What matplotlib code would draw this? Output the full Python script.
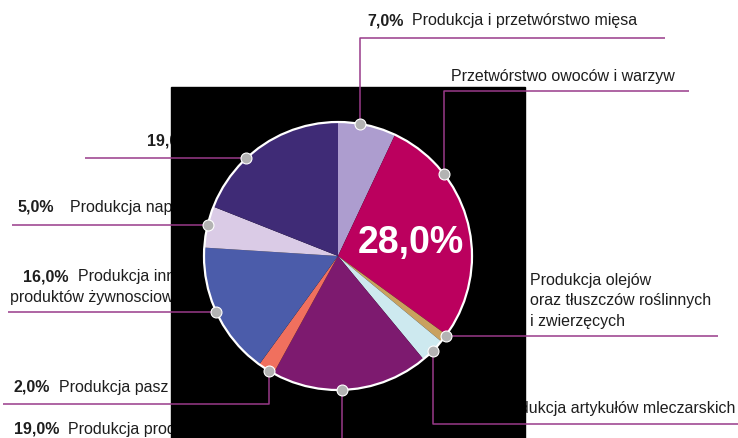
import numpy as np
import matplotlib
matplotlib.use("Agg")
import matplotlib.pyplot as plt
from matplotlib.patches import Rectangle, Circle

plt.rcParams['font.family'] = ['Liberation Sans', 'DejaVu Sans']

# data (clockwise from 12 o'clock)
categories = [
    'Produkcja i przetwórstwo mięsa',
    'Przetwórstwo owoców i warzyw',
    'Produkcja olejów\noraz tłuszczów roślinnych\ni zwierzęcych',
    'Produkcja artykułów mleczarskich',
    'Produkcja produktów przemiału zbóż',
    'Produkcja pasz',
    'Produkcja innych\nproduktów żywnosciowych',
    'Produkcja napojów',
    'Produkcja pieczywa',
]
shares = [7.0, 28.0, 1.0, 3.0, 19.0, 2.0, 16.0, 5.0, 19.0]
pct_labels = ['7,0%', '', '1,0%', '3,0%', '19,0%', '2,0%', '16,0%', '5,0%', '19,0%']
colors = ['#ad9dcf', '#bb005e', '#c9a15e', '#cde9ef', '#7d1a6f',
          '#f0705e', '#4b5caa', '#dacbe6', '#3f2b76']

W, H = 738, 439
def Y(y):
    return H - y

fig = plt.figure(figsize=(W / 100, H / 100), dpi=100)
ax = fig.add_axes([0, 0, 1, 1])

cx, cy, r = 338, 257, 134

# black backdrop behind the pie
ax.add_patch(Rectangle((171, 0), 525 - 171, Y(88), color='black', zorder=2))

ax.pie(shares, colors=colors, startangle=90, counterclock=False,
       center=(cx, Y(cy)), radius=r, wedgeprops=dict(linewidth=0, zorder=4))
for w in ax.patches:
    if not isinstance(w, Rectangle):
        w.set_zorder(4)
ax.add_patch(Circle((cx, Y(cy)), r, fill=False, edgecolor='white', lw=1.6, zorder=5))

ax.set_xlim(0, W)
ax.set_ylim(0, H)
ax.set_aspect('equal')
ax.axis('off')

ax.text(411, Y(243), '28,0%', color='white', fontsize=27, fontweight='bold',
        ha='center', va='center', zorder=6)

# label layout: anchor angle on rim, leader route, text position
anchor_deg = [9.5, 52.2, 126.6, 135.0, 178.3, 210.8, 245.5, 283.5, 316.8]
line_y = [39, 92, None, 425, 447, 405, None, None, None]
line_x_end = [665, 689, 718, 738, 0, 3, 8, 12, 85]
text_x = [367, 451, 530, 735, 14, 13, 23, 18, 147]
text_base = [25, 81, 285, 413, 434, 392, 281, 212, 146]
gaps = [9, 0, 10, 10, 9, 10, 10, 15, 10]
line_col = '#993a8a'
txt_col = '#1e1e1e'
fs = 11.5

renderer = fig.canvas.get_renderer()

for i in range(len(shares)):
    th = np.radians(anchor_deg[i])
    ax_ = cx + r * np.sin(th)
    ay_ = cy - r * np.cos(th)
    ly = ay_ if line_y[i] is None else line_y[i]
    ax.plot([ax_, ax_, line_x_end[i]], [Y(ay_), Y(ly), Y(ly)],
            color=line_col, lw=1.1, zorder=3, solid_capstyle='butt')
    ax.scatter([ax_], [Y(ay_)], s=62, color='#b3b3b3', edgecolor='white',
               linewidth=0.8, zorder=7)

    name = categories[i]
    pct = pct_labels[i]
    gap = gaps[i]
    tx, tb = text_x[i], Y(text_base[i])
    if i == 1:
        ax.text(tx, tb, name, fontsize=fs, color=txt_col, va='baseline', zorder=1)
    elif i == 2:
        ax.text(tx, tb, name.split('\n')[0], fontsize=fs, color=txt_col,
                va='baseline', zorder=1)
        for k, ln in enumerate(name.split('\n')[1:]):
            ax.text(tx, tb - 20.5 * (k + 1), ln, fontsize=fs, color=txt_col,
                    va='baseline', zorder=1)
        wb = ax.text(0, 0, pct, fontsize=fs, fontweight='bold')
        w = wb.get_window_extent(renderer).width
        wb.remove()
        ax.text(tx - gap - w, tb, pct, fontsize=fs, fontweight='bold',
                color=txt_col, va='baseline', zorder=1)
    elif i == 3:
        t = ax.text(tx, tb, name, fontsize=fs, color=txt_col, va='baseline',
                    ha='right', zorder=1)
        w = t.get_window_extent(renderer).width
        ax.text(tx - w - gap, tb, pct, fontsize=fs, fontweight='bold',
                color=txt_col, va='baseline', ha='right', zorder=1)
    elif i == 6:
        l1, l2 = name.split('\n')
        b = ax.text(tx, tb, pct, fontsize=fs, fontweight='bold', color=txt_col,
                    va='baseline', zorder=1)
        w = b.get_window_extent(renderer).width
        ax.text(tx + w + gap, tb, l1, fontsize=fs, color=txt_col,
                va='baseline', zorder=1)
        ax.text(10, tb - 21, l2, fontsize=fs, color=txt_col,
                va='baseline', zorder=1)
    else:
        b = ax.text(tx, tb, pct, fontsize=fs, fontweight='bold', color=txt_col,
                    va='baseline', zorder=1)
        w = b.get_window_extent(renderer).width
        ax.text(tx + w + gap, tb, name, fontsize=fs, color=txt_col,
                va='baseline', zorder=1)

fig.savefig('out.png', dpi=100, facecolor='white')
